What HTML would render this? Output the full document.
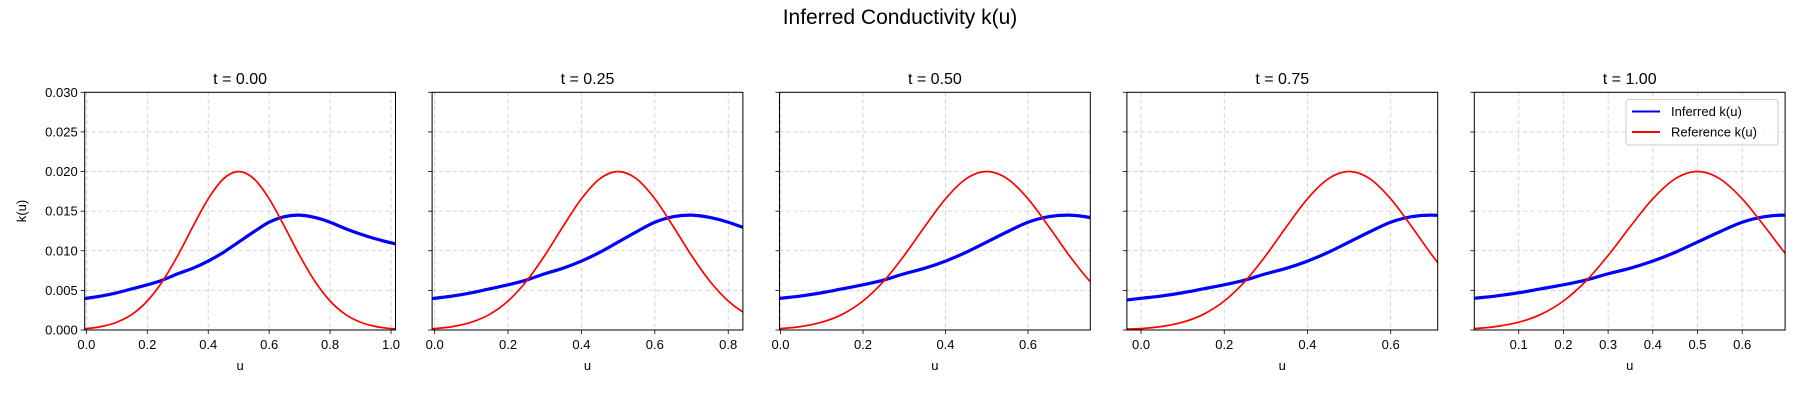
<!DOCTYPE html>
<html><head><meta charset="utf-8"><style>
body{margin:0;background:#fff;width:1800px;height:400px;overflow:hidden}
text{font-family:"Liberation Sans","DejaVu Sans",sans-serif;fill:#000}
</style></head><body>
<svg id="chart" width="1800" height="400" xmlns="http://www.w3.org/2000/svg">
<text x="900" y="24" font-size="21" text-anchor="middle">Inferred Conductivity k(u)</text>
</svg>
<script>
const panelTitles = ["t = 0.00","t = 0.25","t = 0.50","t = 0.75","t = 1.00"];
const panelUMin = [-0.0055,-0.007,-0.0024,-0.034,0.0006];
const panelUMax = [1.0147,0.84,0.751,0.713,0.696];
const panelTicks = [[0,0.2,0.4,0.6,0.8,1.0],[0,0.2,0.4,0.6,0.8],[0,0.2,0.4,0.6],[0,0.2,0.4,0.6],[0.1,0.2,0.3,0.4,0.5,0.6]];
const yTicks = [0,0.005,0.01,0.015,0.02,0.025,0.03];
const uGrid = [-0.05,0,0.05,0.1,0.15,0.2,0.25,0.3,0.35,0.4,0.45,0.5,0.55,0.6,0.65,0.7,0.75,0.8,0.85,0.9,0.95,1.0,1.05];
const inferredK = [0.0037,0.0040,0.0043,0.0047,0.0052,0.0057,0.0063,0.0071,0.0078,0.0087,0.0098,0.0111,0.0124,0.0136,0.0143,0.0145,0.0142,0.0136,0.0128,0.0121,0.0115,0.0110,0.0106];
const referenceK = [0.00010,0.00018,0.00044,0.00098,0.00198,0.00366,0.00615,0.0094,0.01308,0.01656,0.01908,0.02,0.01908,0.01656,0.01308,0.0094,0.00615,0.00366,0.00198,0.00098,0.00044,0.00018,0.0001];

const NS="http://www.w3.org/2000/svg";
const svg=document.getElementById('chart');
const L0=84.7, STEP=347.4, W=310.8, TOP=92.3, BOT=330;
function mk(tag,attrs,parent){const e=document.createElementNS(NS,tag);for(const k in attrs)e.setAttribute(k,attrs[k]);(parent||svg).appendChild(e);return e;}
function smooth(pts){let d="M"+pts[0][0].toFixed(2)+","+pts[0][1].toFixed(2);
 for(let i=0;i<pts.length-1;i++){const p0=pts[i-1]||pts[i],p1=pts[i],p2=pts[i+1],p3=pts[i+2]||p2;
  d+=" C"+(p1[0]+(p2[0]-p0[0])/6).toFixed(2)+","+(p1[1]+(p2[1]-p0[1])/6).toFixed(2)+" "+(p2[0]-(p3[0]-p1[0])/6).toFixed(2)+","+(p2[1]-(p3[1]-p1[1])/6).toFixed(2)+" "+p2[0].toFixed(2)+","+p2[1].toFixed(2);}
 return d;}
const yS=v=>BOT-(v/0.03)*(BOT-TOP);
for(let p=0;p<5;p++){
 const left=L0+p*STEP, right=left+W;
 const xS=u=>left+(u-panelUMin[p])/(panelUMax[p]-panelUMin[p])*W;
 const g=mk('g',{});
 
 
 const cp=mk('clipPath',{id:'c'+p},g);mk('rect',{x:left,y:TOP,width:W,height:BOT-TOP},cp);
 // grid
 yTicks.forEach(v=>{const l=mk('line',{x1:left,x2:right,y1:yS(v),y2:yS(v),stroke:'#b0b0b0','stroke-width':0.8,'stroke-dasharray':'4,3','stroke-opacity':0.7},g);
  
  mk('line',{x1:left-4,x2:left,y1:yS(v),y2:yS(v),stroke:'#000','stroke-width':0.8},g);
  if(p===0){const t=mk('text',{x:left-7,y:yS(v)+4.5,'font-size':13,'text-anchor':'end'},g);t.textContent=v.toFixed(3);
   }});
 panelTicks[p].forEach(v=>{const x=xS(v);
  const l=mk('line',{x1:x,x2:x,y1:TOP,y2:BOT,stroke:'#b0b0b0','stroke-width':0.8,'stroke-dasharray':'4,3','stroke-opacity':0.7},g);
  
  mk('line',{x1:x,x2:x,y1:BOT,y2:BOT+4,stroke:'#000','stroke-width':0.8},g);
  const t=mk('text',{x:x,y:BOT+19,'font-size':13,'text-anchor':'middle'},g);t.textContent=v.toFixed(1);
  });
 const pi=uGrid.map((u,i)=>[xS(u),yS(inferredK[i])]);
 const pr=uGrid.map((u,i)=>[xS(u),yS(referenceK[i])]);
 const li=mk('path',{d:smooth(pi),fill:'none',stroke:'#0000ff','stroke-width':3.2,'clip-path':'url(#c'+p+')'},g);
 
 const lr=mk('path',{d:smooth(pr),fill:'none',stroke:'#ff0000','stroke-width':1.7,'clip-path':'url(#c'+p+')'},g);
 
 const fr=mk('rect',{x:left,y:TOP,width:W,height:BOT-TOP,fill:'none',stroke:'#000','stroke-width':1},g);
 
 const tt=mk('text',{x:left+W/2,y:84,'font-size':16,'text-anchor':'middle'},g);tt.textContent=panelTitles[p];
 
 const xl=mk('text',{x:left+W/2,y:370,'font-size':13,'text-anchor':'middle'},g);xl.textContent='u';
 
}
const yl=mk('text',{x:0,y:0,'font-size':13,'text-anchor':'middle',transform:'translate(26,211) rotate(-90)'});yl.textContent='k(u)';

const lg=mk('g',{});

mk('rect',{x:1626,y:99.5,width:152,height:45.5,rx:3,fill:'#fff','fill-opacity':0.8,stroke:'#ccc','stroke-width':1},lg);
mk('line',{x1:1632,x2:1660,y1:111.5,y2:111.5,stroke:'#0000ff','stroke-width':2},lg);
mk('line',{x1:1632,x2:1660,y1:132,y2:132,stroke:'#ff0000','stroke-width':2},lg);
const t1=mk('text',{x:1671,y:116,'font-size':13},lg);t1.textContent='Inferred k(u)';

const t2=mk('text',{x:1671,y:136.5,'font-size':13},lg);t2.textContent='Reference k(u)';

</script>
</body></html>
